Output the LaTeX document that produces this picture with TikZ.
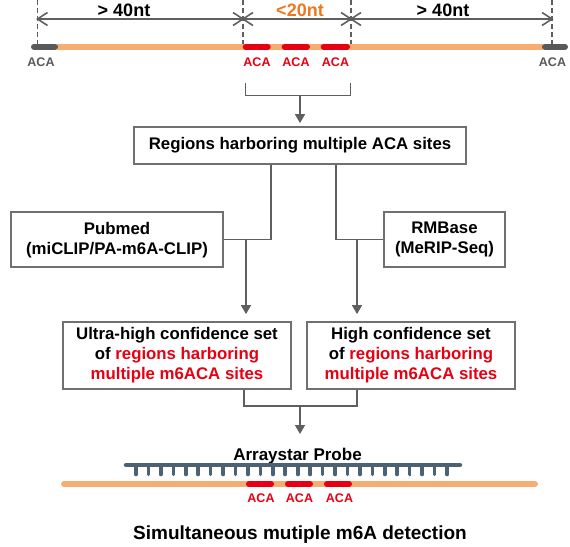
\documentclass[tikz,border=0pt]{standalone}
\usepackage{fontspec}
\setmainfont{Liberation Sans}
\usetikzlibrary{arrows.meta}
\definecolor{acagray}{RGB}{89,89,89}
\definecolor{linegray}{RGB}{95,95,95}
\definecolor{boxgray}{RGB}{112,112,112}
\definecolor{strandorange}{RGB}{245,173,116}
\definecolor{acared}{RGB}{230,0,18}
\definecolor{ntorange}{RGB}{238,120,30}
\definecolor{probeblue}{RGB}{76,98,114}

\begin{document}
\begin{tikzpicture}[x=1pt,y=-1pt,
    box/.style={draw=boxgray, line width=1.8pt, align=center, inner sep=0pt,
      font=\fontsize{16.8}{20}\selectfont\bfseries},
    flow/.style={linegray, line width=1.5pt},
    flowarrow/.style={flow, -{Triangle[length=9pt,width=10pt]}},
    dim/.style={linegray, line width=1.4pt},
    dimtip/.style={linegray, line width=1.6pt, line join=miter},
    guide/.style={linegray, line width=1.3pt, dash pattern=on 5pt off 3pt},
    strand/.style={strandorange, line width=6pt, line cap=round},
    site/.style={acared, line width=6pt, line cap=round},
    endsite/.style={acagray, line width=6pt, line cap=round},
    acalabel/.style={font=\fontsize{12.5}{13}\selectfont\bfseries, inner sep=0pt},
    ntlabel/.style={font=\fontsize{18}{18}\selectfont\bfseries, inner sep=0pt}]
  \useasboundingbox (0,0) rectangle (570,546);

  % Distances
  \foreach \x [count=\i] in {37.5,243,351,552} {
    \coordinate (d\i) at (\x,19);
    \draw[guide] (\x,0) -- (\x,44);
  }
  \draw[dim] (d1) -- (d2);
  \draw[dim] (d2) -- (d3);
  \draw[dim] (d3) -- (d4);
  \foreach \p/\s in {d1/1,d2/-1,d2/1,d3/-1,d3/1,d4/-1}
    \draw[dimtip] ([shift={(\s*10,-6.5)}]\p) -- (\p) -- ([shift={(\s*10,6.5)}]\p);
  \node[ntlabel] (leftnt) at (124,10) {> 40nt};
  \node[ntlabel, text=ntorange] (midnt) at (300,10) {<20nt};
  \node[ntlabel] (rightnt) at (443,10) {> 40nt};

  % Transcript
  \draw[strand] (58,46.7) -- (542,46.7);
  \draw[endsite] (34,46.7) -- (55,46.7);
  \draw[endsite] (545,46.7) -- (565,46.7);
  \draw[site] (245.7,46.7) -- (267.7,46.7);
  \draw[site] (284.7,46.7) -- (307,46.7);
  \draw[site] (323.7,46.7) -- (347,46.7);
  \node[acalabel, text=acagray] (acaleft) at (41,62) {ACA};
  \node[acalabel, text=acared] (acaa) at (257,62) {ACA};
  \node[acalabel, text=acared] (acab) at (296,62) {ACA};
  \node[acalabel, text=acared] (acac) at (335.5,62) {ACA};
  \node[acalabel, text=acagray] (acaright) at (552.5,62) {ACA};

  % Boxes
  \node[box, minimum width=332pt, minimum height=37pt] (regions) at (300,145.5)
    {Regions harboring multiple ACA sites};
  \node[box, minimum width=212pt, minimum height=55pt] (pubmed) at (117,239.7)
    {Pubmed\\(miCLIP/PA-m6A-CLIP)};
  \node[box, minimum width=121pt, minimum height=55pt] (rmbase) at (444.5,239.7)
    {RMBase\\(MeRIP-Seq)};
  \node[box, minimum width=228pt, minimum height=67pt] (ultra) at (177,355.5)
    {Ultra-high confidence set\\of \textcolor{acared}{regions harboring}\\
     \textcolor{acared}{multiple m6ACA sites}};
  \node[box, minimum width=208pt, minimum height=67pt] (high) at (411,355.5)
    {High confidence set\\of \textcolor{acared}{regions harboring}\\
     \textcolor{acared}{multiple m6ACA sites}};

  % Connectors
  \coordinate (bl) at (245.7,83);
  \coordinate (br) at (350.7,83);
  \draw[flow] (bl) -- ++(0,12.3) -| (br);
  \draw[flowarrow, shorten >=3pt] (regions.north |- 0,95.3) -- (regions.north);
  \draw[flow] ([xshift=-29pt]regions.south) |- (pubmed.east);
  \draw[flow] ([xshift=36pt]regions.south) |- (rmbase.west);
  \coordinate (pj) at (246,239.7);
  \coordinate (rj) at (357,239.7);
  \draw[flowarrow, shorten >=7pt] (pj) -- (ultra.north -| pj);
  \draw[flowarrow, shorten >=7pt] (rj) -- (high.north -| rj);
  \coordinate (uj) at (244,406);
  \coordinate (hj) at (357,406);
  \draw[flow] (ultra.south -| uj) -- (uj) -- (hj) -- (high.south -| hj);
  \coordinate (mj) at (300,406);
  \coordinate (probetip) at (300,434);
  \draw[flowarrow] (mj) -- (probetip);

  % Probe
  \node[inner sep=0pt, font=\fontsize{17}{18}\selectfont\bfseries] (probe) at (297.5,456)
    {Arraystar Probe};
  \draw[probeblue, line width=4.5pt, line cap=round] (126,465) -- (460,465);
  \foreach \i in {0,...,25}
    \draw[probeblue, line width=3.6pt, line cap=round] (136+\i*12.44,466) -- ++(0,8.5);

  % Target
  \draw[strand] (64,484) -- (535,484);
  \draw[site] (249,484) -- (271,484);
  \draw[site] (288,484) -- (310,484);
  \draw[site] (327,484) -- (349,484);
  \node[acalabel, text=acared] (acad) at (261,498) {ACA};
  \node[acalabel, text=acared] (acae) at (299.5,498) {ACA};
  \node[acalabel, text=acared] (acaf) at (339.5,498) {ACA};

  \node[inner sep=0pt, font=\fontsize{19}{20}\selectfont\bfseries] (title) at (300,535)
    {Simultaneous mutiple m6A detection};
\end{tikzpicture}
\end{document}
